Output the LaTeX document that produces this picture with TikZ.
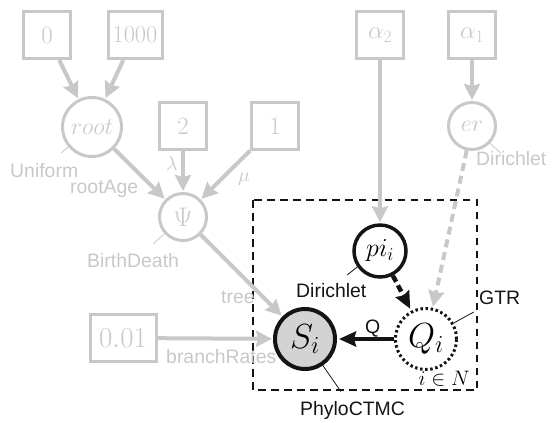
\documentclass[tikz,border=0pt]{standalone}
\usepackage{fix-cm}
\usepackage{fontspec}
\setsansfont{Liberation Sans}
\usepackage{xcolor}
\usetikzlibrary{arrows.meta}
\definecolor{faded}{HTML}{C8C8C8}
\definecolor{ink}{HTML}{141414}
\definecolor{obsfill}{HTML}{D3D3D3}
\newcommand{\lblsize}{\sffamily\fontsize{19.5}{23}\selectfont}
\tikzset{
  constbox/.style={draw=faded, line width=3bp, minimum size=47bp, inner sep=0pt, text=faded, font=\fontsize{25}{30}\selectfont},
  fadednode/.style={circle, draw=faded, line width=3bp, minimum size=47bp, inner sep=0pt, text=faded, font=\fontsize{24}{28}\selectfont},
  stochnode/.style={circle, draw=ink, line width=3.5bp, minimum size=52bp, inner sep=0pt, font=\fontsize{26}{30}\selectfont},
  detnode/.style={circle, draw=ink, line width=3bp, dash pattern=on 2.5bp off 2.6bp, minimum size=61bp, inner sep=0pt, font=\fontsize{35}{40}\selectfont},
  obsnode/.style={circle, draw=ink, fill=obsfill, line width=4bp, minimum size=60bp, inner sep=0pt, font=\fontsize{35}{40}\selectfont},
  fadedarrow/.style={-{Stealth[length=16bp, width=16bp, inset=2bp]}, draw=faded, line width=4bp, shorten >=1bp},
  inkarrow/.style={-{Stealth[length=17bp, width=15bp, inset=2bp]}, draw=ink, line width=4.5bp, shorten >=2bp},
  plate/.style={draw=ink, line width=2.5bp, dash pattern=on 7.5bp off 5.5bp},
  tick/.style={line width=0.8bp},
  lbl/.style={anchor=base west, inner sep=0pt, font=\lblsize, text=faded},
  inklbl/.style={anchor=base west, inner sep=0pt, font=\lblsize, text=ink}
}

\begin{document}
\begin{tikzpicture}[x=1bp, y=-1bp]
  \useasboundingbox (0,0) rectangle (558,422);

  % plate
  \draw[plate] (253,200) rectangle (477,390);
  \node[anchor=base east, inner sep=0pt, font=\fontsize{21}{24}\selectfont] (plateN) at (470,385) {$i\in N$};

  % constants
  \node[constbox] (lo) at (47,35) {$0$};
  \node[constbox, minimum width=54bp, font=\fontsize{24.5}{30}\selectfont] (hi) at (135,35) {$1000$};
  \node[constbox] (birth) at (183,126) {$2$};
  \node[constbox] (death) at (275,126) {$1$};
  \node[constbox] (atwo) at (380,35) {$\alpha_2$};
  \node[constbox] (aone) at (472,35) {$\alpha_1$};
  \node[constbox, minimum width=66bp, font=\fontsize{29}{34}\selectfont] (rate) at (123,338) {$0.01$};

  % random variables
  \node[fadednode, minimum size=59bp] (root) at (92,127) {$root$};
  \node[fadednode, font=\fontsize{27}{30}\selectfont] (psi) at (183,217) {$\Psi$};
  \node[fadednode] (er) at (472,126) {$er$};
  \node[stochnode] (pi) at (380,251) {$pi_i$};
  \node[detnode] (Q) at (426,339) {$Q_i$};
  \node[obsnode] (S) at (305,339) {$S_i$};

  \draw[fadedarrow] (lo) -- (root);
  \draw[fadedarrow] (hi) -- (root);
  \draw[fadedarrow] (root) -- (psi);
  \draw[fadedarrow] (birth) -- (psi);
  \draw[fadedarrow] (death) -- (psi);
  \draw[fadedarrow] (psi) -- (S);
  \draw[fadedarrow] (rate) -- (S);
  \draw[fadedarrow] (atwo) -- (pi);
  \draw[fadedarrow] (aone) -- (er);
  \draw[fadedarrow, dash pattern=on 8bp off 5bp] (er) -- (Q);
  \draw[inkarrow, dash pattern=on 7bp off 4bp] (pi) -- (Q);
  \draw[inkarrow] (Q) -- (S);

  % distribution ticks and labels
  \draw[tick, draw=faded] (root.220) -- ++(-7,6);
  \draw[tick, draw=faded] (psi.222) -- ++(-11,10);
  \draw[tick, draw=faded] (er.316) -- ++(11,10);
  \draw[tick, draw=ink] (pi.215) -- ++(-10,8);
  \draw[tick, draw=ink] (Q.30) -- ++(20,-11);
  \draw[tick, draw=ink] (S.304) -- ++(18,26);

  \node[lbl] (uniLbl) at (10,177) {Uniform};
  \node[lbl] (ageLbl) at (70,193) {rootAge};
  \node[lbl] (bdLbl) at (87,267) {BirthDeath};
  \node[lbl] (treeLbl) at (221,303) {tree};
  \node[lbl] (rateLbl) at (166,363) {branchRates};
  \node[lbl] (erLbl) at (476,165) {Dirichlet};
  \node[lbl, font=\fontsize{20}{24}\selectfont] (lamLbl) at (166,170) {$\lambda$};
  \node[lbl, font=\fontsize{20}{24}\selectfont] (muLbl) at (238,181) {$\mu$};
  \node[inklbl] (piLbl) at (296,297) {Dirichlet};
  \node[inklbl] (gtrLbl) at (479,304) {GTR};
  \node[inklbl] (qLbl) at (365,333) {Q};
  \node[inklbl] (ctmcLbl) at (300,415) {PhyloCTMC};
\end{tikzpicture}
\end{document}
